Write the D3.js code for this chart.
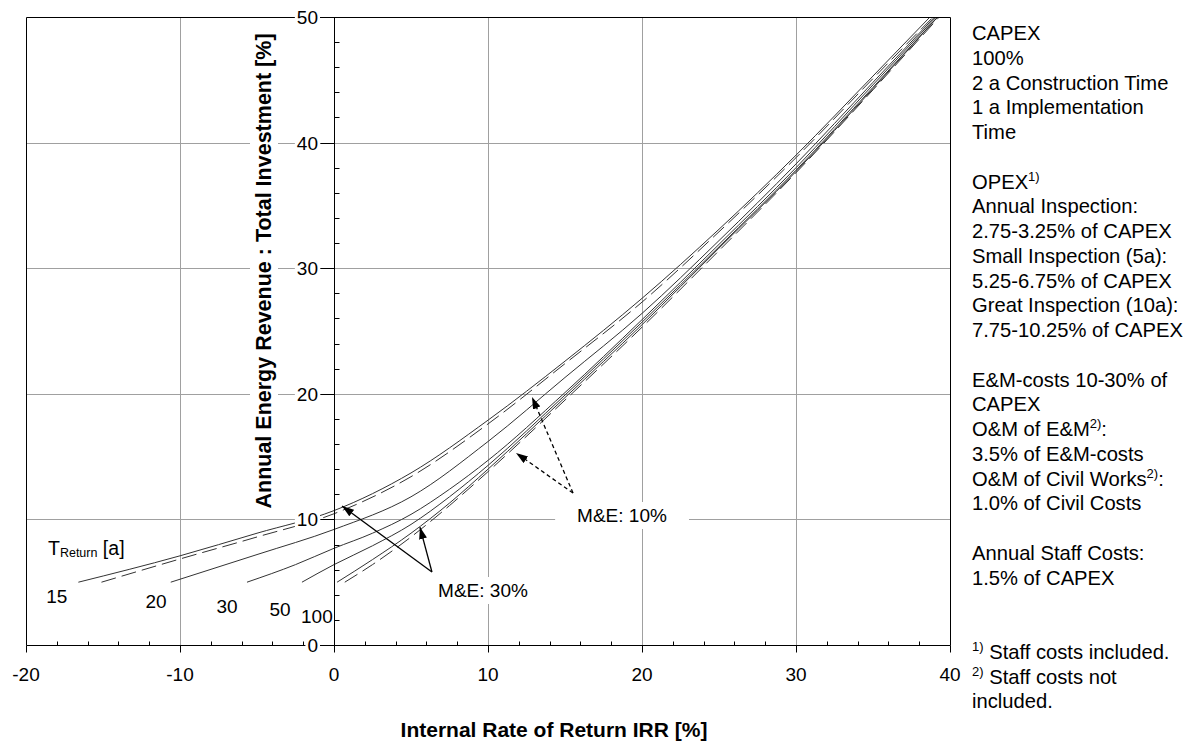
<!DOCTYPE html>
<html><head><meta charset="utf-8">
<script src="https://cdn.jsdelivr.net/npm/d3@7"></script>
<style>
body{margin:0;background:#fff}
text{font-family:"Liberation Sans",Arial,sans-serif;fill:#000}
</style>
</head><body>
<svg id="c" width="1189" height="747"></svg>
<script>
// ---------- data ----------
const xTicks = [-20, -10, 0, 10, 20, 30, 40];
const yTicks = [0, 10, 20, 30, 40, 50];
const returnPeriods = ["15", "20", "30", "50", "100"];

// IRR [%] , Annual revenue : total investment [%]
const t15Solid  = [[-16.6,5.0],[-10,7.1],[-5,8.9],[0,10.7],[5,13.7],[10,17.9],[15,22.6],[20,27.6],[25,33.1],[30,39.0],[35,45.3],[38.7,50]];
const t15Dashed = [[-15.1,5.0],[-10,6.85],[-5,8.6],[0,10.45],[5,13.4],[10,17.6],[15,22.4],[20,27.3],[25,32.9],[30,38.8],[35,45.1],[38.9,50]];
const t20Solid  = [[-10.6,5.0],[-5,7.2],[0,9.2],[5,11.8],[10,16.2],[15,21.3],[20,26.4],[25,32.2],[30,38.3],[35,44.8],[39.0,50]];
const t30Solid  = [[-5.65,5.0],[-2.5,6.4],[0,7.7],[2.5,8.9],[5,10.4],[7.5,12.4],[10,14.7],[15,20.1],[20,25.9],[25,31.9],[30,38.0],[35,44.6],[39.1,50]];
const t50Solid  = [[-2.08,5.0],[0,6.4],[2.5,7.9],[5,9.6],[7.5,11.8],[10,14.3],[15,19.9],[20,25.7],[25,31.7],[30,37.8],[35,44.4],[39.2,50]];
const t100Solid = [[0.2,5.0],[2.5,6.8],[5,8.9],[7.5,11.3],[10,14.0],[15,19.7],[20,25.5],[25,31.6],[30,37.7],[35,44.3],[39.2,50]];
const t100Dashed= [[0.7,5.0],[2.5,6.4],[5,8.6],[7.5,11.1],[10,13.8],[15,19.5],[20,25.3],[25,31.4],[30,37.6],[35,44.2],[39.3,50]];

const seriesList = [
  {data: t15Solid, dashed: false}, {data: t15Dashed, dashed: true},
  {data: t20Solid, dashed: false}, {data: t30Solid, dashed: false},
  {data: t50Solid, dashed: false}, {data: t100Solid, dashed: false},
  {data: t100Dashed, dashed: true}
];

// T_Return labels (data coordinates)
const returnLabelPos = [[-18.0,3.34],[-11.56,2.95],[-6.95,2.55],[-3.51,2.3],[-1.11,1.75]];

// annotation arrows (data coordinates)
const me30Tail = [6.36,5.81];
const me30Heads = [[0.52,11.07],[5.58,9.39]];
const me10Tail = [15.52,12.10];
const me10Heads = [[12.86,19.75],[11.82,15.29]];

const noteLines = [
 ["CAPEX"],["100%"],["2 a Construction Time"],["1 a Implementation"],["Time"],[],
 ["OPEX","^1)"],["Annual Inspection:"],["2.75-3.25% of CAPEX"],["Small Inspection (5a):"],["5.25-6.75% of CAPEX"],["Great Inspection (10a):"],["7.75-10.25% of CAPEX"],[],
 ["E&M-costs 10-30% of"],["CAPEX"],["O&M of E&M","^2)",":"],["3.5% of E&M-costs"],["O&M of Civil Works","^2)",":"],["1.0% of Civil Costs"],[],
 ["Annual Staff Costs:"],["1.5% of CAPEX"],[],[],
 ["^1)"," Staff costs included."],["^2)"," Staff costs not"],["included."]
];

// ---------- drawing ----------
const svg = d3.select("#c");
const x = d3.scaleLinear().domain([-20, 40]).range([26, 950]);
const y = d3.scaleLinear().domain([0, 50]).range([645, 17]);
const px = v => Math.round(x(v)) + 0.5;
const py = v => Math.round(y(v)) + 0.5;

svg.append("defs").append("clipPath").attr("id","plot")
  .append("rect").attr("x", x(-20)).attr("y", y(50)).attr("width", x(40)-x(-20)).attr("height", y(0)-y(50));
const defs = svg.select("defs");
defs.append("marker").attr("id","ah").attr("viewBox","0 0 12 8").attr("refX",12).attr("refY",4)
  .attr("markerWidth",12).attr("markerHeight",8).attr("markerUnits","userSpaceOnUse").attr("orient","auto")
  .append("path").attr("d","M0,0L12,4L0,8Z").attr("fill","#000");

// grid
const grid = svg.append("g").attr("stroke","#a0a0a0").attr("stroke-width",1);
xTicks.filter(v => v !== -20 && v !== 40 && v !== 0).forEach(v =>
  grid.append("line").attr("x1",px(v)).attr("x2",px(v)).attr("y1",y(50)).attr("y2",y(0)));
yTicks.filter(v => v !== 0 && v !== 50).forEach(v =>
  grid.append("line").attr("x1",x(-20)).attr("x2",x(40)).attr("y1",py(v)).attr("y2",py(v)));

// curves
const line = d3.line().x(d => x(d[0])).y(d => y(d[1])).curve(d3.curveMonotoneX);
const cg = svg.append("g").attr("clip-path","url(#plot)");
seriesList.forEach(s => {
  cg.append("path").attr("d", line(s.data)).attr("fill","none")
    .attr("stroke","#333").attr("stroke-width",1)
    .attr("stroke-dasharray", s.dashed ? "15,6" : null);
});

// frame & axes
const ax = svg.append("g").attr("stroke","#000").attr("stroke-width",1).attr("fill","none");
ax.append("path").attr("d", `M${px(-20)},${py(0)}V${py(50)}H${px(40)}V${py(0)}`);
ax.append("line").attr("x1",px(-20)).attr("x2",px(40)).attr("y1",py(0)).attr("y2",py(0));
ax.append("line").attr("x1",px(0)).attr("x2",px(0)).attr("y1",py(50)).attr("y2",py(0));
d3.range(-20, 41, 2).forEach(v => {
  if (v % 10 === 0) ax.append("line").attr("x1",px(v)).attr("x2",px(v)).attr("y1",py(0)).attr("y2",py(0)+7);
  else ax.append("line").attr("x1",px(v)).attr("x2",px(v)).attr("y1",py(0)-4).attr("y2",py(0));
});
d3.range(0, 51, 2).forEach(v => {
  if (v % 10 !== 0) ax.append("line").attr("x1",px(0)).attr("x2",px(0)+5).attr("y1",py(v)).attr("y2",py(v));
  else ax.append("line").attr("x1",px(0)-14).attr("x2",px(0)).attr("y1",py(v)).attr("y2",py(v));
});

// helper: text with white background
function bgText(g, tx, ty, str, opt) {
  opt = opt || {};
  const t = g.append("text").attr("x",tx).attr("y",ty).text(str)
    .attr("font-size", opt.size || 19).attr("text-anchor", opt.anchor || "start")
    .attr("font-weight", opt.bold ? "bold" : null);
  const b = t.node().getBBox();
  const padX = opt.padX == null ? 2 : opt.padX, padY = opt.padY == null ? 0 : opt.padY;
  g.insert("rect", () => t.node()).attr("x", b.x - padX).attr("y", b.y - padY)
    .attr("width", b.width + 2*padX).attr("height", b.height + 2*padY).attr("fill","#fff");
  return t;
}

const lab = svg.append("g");
// y tick labels
yTicks.forEach(v => bgText(lab, 318, y(v) + 7, String(v), {anchor:"end", size:19, padX:2, padY:-2}));
// x tick labels
xTicks.forEach(v => lab.append("text").attr("x", x(v)).attr("y", 681).attr("text-anchor","middle").attr("font-size",19).text(String(v)));

// return period labels
returnPeriods.forEach((r, i) => bgText(lab, x(returnLabelPos[i][0]), y(returnLabelPos[i][1]), r, {anchor:"middle", size:19, padX:1, padY:-2}));
const tr = lab.append("text").attr("x",48).attr("y",555).attr("font-size",19.5);
tr.append("tspan").text("T");
tr.append("tspan").attr("font-size",12.5).attr("dy",2).text("Return");
tr.append("tspan").attr("dy",-2).text(" [a]");

// axis titles
const yt = lab.append("g").attr("transform","translate(271,271) rotate(-90)");
bgText(yt, 0, 0, "Annual Energy Revenue : Total Investment [%]", {anchor:"middle", size:21.5, bold:true, padX:3, padY:2});
lab.append("text").attr("x",554).attr("y",737).attr("text-anchor","middle").attr("font-size",21).attr("font-weight","bold")
  .text("Internal Rate of Return IRR [%]");

// annotations
const an = svg.append("g");
function arrow(from, to, dashed) {
  an.append("line").attr("x1",x(from[0])).attr("y1",y(from[1])).attr("x2",x(to[0])).attr("y2",y(to[1]))
    .attr("stroke","#000").attr("stroke-width",1.3).attr("marker-end","url(#ah)")
    .attr("stroke-dasharray", dashed ? "4,3" : null);
}
me30Heads.forEach(h => arrow(me30Tail, h, false));
me10Heads.forEach(h => arrow(me10Tail, h, true));
bgText(an, 483, 597, "M&E: 30%", {anchor:"middle", size:19, padX:18, padY:3});
bgText(an, 622, 522, "M&E: 10%", {anchor:"middle", size:19, padX:22, padY:3});

// notes on the right
const notes = svg.append("g");
noteLines.forEach((parts, i) => {
  if (!parts.length) return;
  const t = notes.append("text").attr("x",972).attr("y",40 + i*24.75).attr("font-size",20.2);
  let raised = false;
  parts.forEach(p => {
    if (p.startsWith("^")) {
      t.append("tspan").attr("font-size",13).attr("dy", raised ? 0 : -8).text(p.slice(1));
      raised = true;
    } else {
      t.append("tspan").attr("dy", raised ? 8 : 0).text(p);
      raised = false;
    }
  });
});
</script>
</body></html>
